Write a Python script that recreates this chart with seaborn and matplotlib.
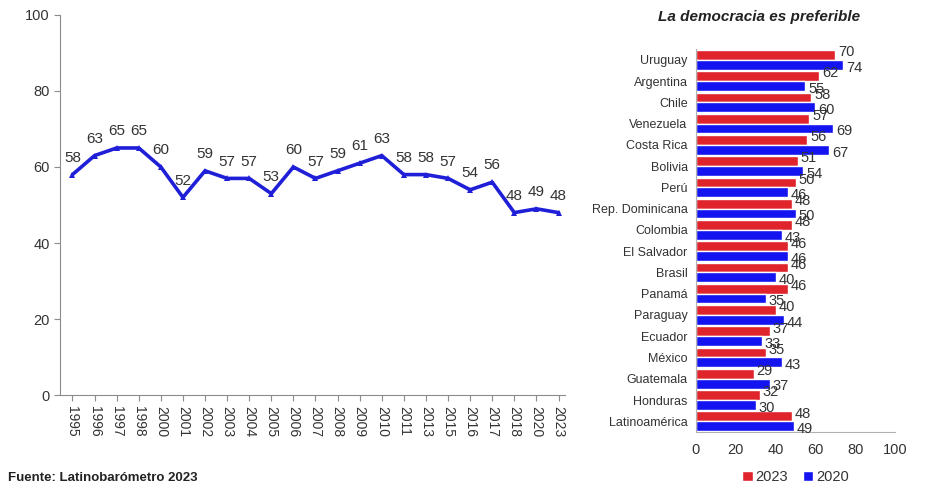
import pandas as pd
import matplotlib.pyplot as plt
import seaborn as sns

# serie de tiempo: apoyo a la democracia, Latinoamérica
years = ["1995", "1996", "1997", "1998", "2000", "2001", "2002", "2003", "2004", "2005",
         "2006", "2007", "2008", "2009", "2010", "2011", "2013", "2015", "2016", "2017",
         "2018", "2020", "2023"]
support = [58, 63, 65, 65, 60, 52, 59, 57, 57, 53, 60, 57, 59, 61, 63, 58, 58, 57, 54, 56,
           48, 49, 48]

# barras por país
countries = ["Uruguay", "Argentina", "Chile", "Venezuela", "Costa Rica", "Bolivia", "Perú",
             "Rep. Dominicana", "Colombia", "El Salvador", "Brasil", "Panamá", "Paraguay",
             "Ecuador", "México", "Guatemala", "Honduras", "Latinoamérica"]
vals_2023 = [70, 62, 58, 57, 56, 51, 50, 48, 48, 46, 46, 46, 40, 37, 35, 29, 32, 48]
vals_2020 = [74, 55, 60, 69, 67, 54, 46, 50, 43, 46, 40, 35, 44, 33, 43, 37, 30, 49]

sns.set_style("white")
plt.rcParams["font.family"] = ["Liberation Sans", "DejaVu Sans"]

LINE_BLUE = "#1f1fd8"
RED = "#e0242c"
BLUE = "#1414f0"
GRAY = "#8c8c8c"
TXT = "#333333"

fig = plt.figure(figsize=(9.28, 4.97), dpi=100)

# ---- left: line chart
ax1 = fig.add_axes([0.065, 0.205, 0.544, 0.765])
line_df = pd.DataFrame({"year": years, "value": support})
sns.lineplot(data=line_df, x="year", y="value", ax=ax1, color=LINE_BLUE, lw=2.6,
             marker="^", markersize=5, markeredgewidth=0, sort=False)
for i, v in enumerate(support):
    ax1.annotate(str(v), (i, v), xytext=(0, 7), textcoords="offset points",
                 ha="center", va="bottom", fontsize=11, color=TXT)
ax1.set_ylim(0, 100)
ax1.set_xlim(-0.55, 22.3)
ax1.set_yticks(range(0, 101, 20))
ax1.set_xticks(range(len(years)))
ax1.set_xticklabels(years, rotation=270, fontsize=10, color=TXT)
ax1.tick_params(axis="y", labelsize=10.5, labelcolor=TXT)
ax1.tick_params(axis="both", direction="out", length=4, color=GRAY, left=True, bottom=True)
ax1.set_xlabel("")
ax1.set_ylabel("")
for s in ["top", "right"]:
    ax1.spines[s].set_visible(False)
for s in ["left", "bottom"]:
    ax1.spines[s].set_color(GRAY)

# ---- right: horizontal bars
ax2 = fig.add_axes([0.75, 0.131, 0.2145, 0.770])
bar_df = pd.DataFrame({
    "country": countries * 2,
    "value": vals_2023 + vals_2020,
    "year": ["2023"] * len(countries) + ["2020"] * len(countries),
})
sns.barplot(data=bar_df, y="country", x="value", hue="year", hue_order=["2023", "2020"],
            palette={"2023": RED, "2020": BLUE}, orient="h", width=0.92, gap=0,
            ax=ax2, saturation=1, legend=True)
for i, (a, b) in enumerate(zip(vals_2023, vals_2020)):
    ax2.annotate(str(a), (a, i - 0.23), xytext=(2, 2), textcoords="offset points",
                 ha="left", va="center", fontsize=10.5, color=TXT)
    ax2.annotate(str(b), (b, i + 0.23), xytext=(2, -2), textcoords="offset points",
                 ha="left", va="center", fontsize=10.5, color=TXT)
ax2.set_xlim(0, 100)
ax2.set_xticks(range(0, 101, 20))
ax2.set_xlabel("")
ax2.set_ylabel("")
ax2.tick_params(axis="x", labelsize=10.5, labelcolor=TXT, length=0, pad=8)
ax2.tick_params(axis="y", labelsize=9, labelcolor=TXT, length=0, pad=6)
for s in ["top", "right"]:
    ax2.spines[s].set_visible(False)
for s in ["left", "bottom"]:
    ax2.spines[s].set_color("#b0b0b0")
ax2.legend(loc="upper center", bbox_to_anchor=(0.5, -0.065), ncol=2, frameon=False,
           fontsize=10.5, handlelength=0.7, handleheight=0.7, handletextpad=0.2,
           columnspacing=1.0, labelcolor=TXT)

fig.text(0.818, 0.965, "La democracia es preferible", ha="center", va="center",
         fontsize=11, fontweight="bold", fontstyle="italic", color="#222222")
fig.text(0.009, 0.038, "Fuente: Latinobarómetro 2023", ha="left", va="center",
         fontsize=9.5, fontweight="bold", color="#222222")

plt.savefig("out.png", dpi=100)
